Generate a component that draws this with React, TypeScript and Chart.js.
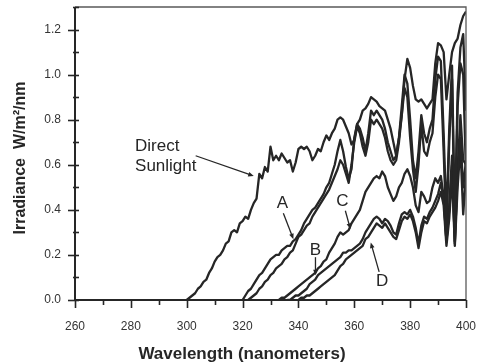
import { useEffect, useRef } from 'react';
import { Chart, registerables } from 'chart.js';

Chart.register(...registerables);

// Axes
const X_MIN = 260;
const X_MAX = 400;
const X_TICKS = [260, 270, 280, 290, 300, 310, 320, 330, 340, 350, 360, 370, 380, 390, 400];
const X_TICK_LABELS = [260, 280, 300, 320, 340, 360, 380, 400];
const Y_MIN = 0;
const Y_MAX = 1.3;
const Y_TICKS = [0, 0.1, 0.2, 0.3, 0.4, 0.5, 0.6, 0.7, 0.8, 0.9, 1.0, 1.1, 1.2, 1.3];
const Y_TICK_LABELS = [0, 0.2, 0.4, 0.6, 0.8, 1.0, 1.2];

// Spectral irradiance (W/m²/nm), sampled every 1 nm from each start wavelength
const directStart = 300;
const directSunlight = [
  0.00, 0.01, 0.02, 0.03, 0.05, 0.06, 0.08, 0.09, 0.12, 0.14,
  0.17, 0.19, 0.20, 0.22, 0.25, 0.26, 0.30, 0.31, 0.30, 0.34,
  0.35, 0.37, 0.36, 0.40, 0.43, 0.45, 0.56, 0.54, 0.59, 0.57,
  0.68, 0.62, 0.64, 0.62, 0.65, 0.63, 0.61, 0.62, 0.57, 0.61,
  0.67, 0.68, 0.67, 0.68, 0.66, 0.62, 0.64, 0.67, 0.66, 0.70,
  0.73, 0.71, 0.74, 0.76, 0.80, 0.81, 0.80, 0.77, 0.74, 0.69,
  0.71, 0.78, 0.80, 0.84, 0.85, 0.87, 0.90, 0.89, 0.88, 0.86,
  0.85, 0.84, 0.80, 0.76, 0.70, 0.64, 0.72, 0.82, 0.98, 1.07,
  1.03, 0.95, 0.89, 0.88, 0.89, 0.87, 0.85, 0.87, 0.89, 1.05,
  1.14, 1.13, 1.10, 0.89, 1.00, 1.10, 1.14, 1.16, 1.22, 1.26,
  1.28,
];

const filterAStart = 320;
const filterA = [
  0.00, 0.02, 0.04, 0.05, 0.07, 0.09, 0.11, 0.12, 0.14, 0.16,
  0.18, 0.19, 0.20, 0.20, 0.22, 0.23, 0.24, 0.24, 0.26, 0.27,
  0.29, 0.31, 0.34, 0.36, 0.38, 0.40, 0.41, 0.43, 0.45, 0.47,
  0.50, 0.52, 0.56, 0.60, 0.66, 0.71, 0.66, 0.59, 0.54, 0.58,
  0.72, 0.78, 0.76, 0.72, 0.66, 0.74, 0.84, 0.82, 0.84, 0.82,
  0.80, 0.76, 0.70, 0.66, 0.62, 0.64, 0.72, 0.86, 1.00, 0.96,
  0.80, 0.62, 0.54, 0.66, 0.82, 0.74, 0.70, 0.76, 0.80, 0.98,
  1.08, 1.06, 0.74, 0.36, 0.76, 1.04, 0.34, 0.92, 1.12, 1.18,
  0.84,
];

// unlabelled companion of A
const filterA2Start = 322;
const filterA2 = [
  0.00, 0.01, 0.02, 0.03, 0.05, 0.06, 0.08, 0.09, 0.11, 0.12,
  0.14, 0.15, 0.16, 0.18, 0.19, 0.21, 0.22, 0.25, 0.28, 0.29,
  0.31, 0.33, 0.34, 0.37, 0.39, 0.41, 0.43, 0.45, 0.47, 0.49,
  0.52, 0.55, 0.58, 0.62, 0.60, 0.56, 0.52, 0.60, 0.70, 0.77,
  0.74, 0.68, 0.64, 0.70, 0.80, 0.78, 0.80, 0.78, 0.76, 0.72,
  0.66, 0.62, 0.60, 0.62, 0.70, 0.82, 0.94, 0.90, 0.72, 0.58,
  0.48, 0.60, 0.78, 0.66, 0.64, 0.70, 0.74, 0.90, 1.00, 0.98,
  0.66, 0.30, 0.70, 0.98, 0.30, 0.86, 1.05, 1.00, 0.56,
];

const filterBStart = 336;
const filterB = [
  0.00, 0.00, 0.01, 0.02, 0.02, 0.03, 0.04, 0.05, 0.07, 0.08,
  0.09, 0.11, 0.12, 0.13, 0.14, 0.15, 0.16, 0.17, 0.18, 0.19,
  0.21, 0.21, 0.22, 0.22, 0.23, 0.24, 0.25, 0.27, 0.30, 0.32,
  0.34, 0.36, 0.37, 0.36, 0.34, 0.36, 0.35, 0.33, 0.30, 0.29,
  0.34, 0.38, 0.39, 0.38, 0.40, 0.37, 0.32, 0.25, 0.33, 0.37,
  0.36, 0.39, 0.41, 0.44, 0.47, 0.52, 0.45, 0.26, 0.40, 0.60,
  0.26, 0.56, 0.72, 0.50, 0.62,
];

const filterCStart = 333;
const filterC = [
  0.00, 0.01, 0.01, 0.02, 0.03, 0.04, 0.05, 0.06, 0.07, 0.08,
  0.09, 0.10, 0.11, 0.12, 0.14, 0.15, 0.17, 0.18, 0.21, 0.23,
  0.25, 0.28, 0.30, 0.29, 0.30, 0.31, 0.34, 0.36, 0.38, 0.40,
  0.44, 0.48, 0.50, 0.52, 0.54, 0.55, 0.54, 0.57, 0.55, 0.50,
  0.47, 0.44, 0.46, 0.50, 0.52, 0.56, 0.58, 0.55, 0.50, 0.42,
  0.39, 0.48, 0.46, 0.43, 0.44, 0.50, 0.54, 0.52, 0.55, 0.46,
  0.26, 0.42, 0.64, 0.25, 0.58, 0.82, 0.62, 0.60,
];

const filterDStart = 340;
const filterD = [
  0.00, 0.01, 0.01, 0.02, 0.02, 0.03, 0.04, 0.05, 0.06, 0.07,
  0.08, 0.09, 0.10, 0.11, 0.13, 0.15, 0.16, 0.18, 0.19, 0.20,
  0.21, 0.22, 0.23, 0.24, 0.27, 0.28, 0.30, 0.32, 0.34, 0.33,
  0.32, 0.34, 0.32, 0.30, 0.28, 0.27, 0.31, 0.35, 0.37, 0.36,
  0.38, 0.35, 0.30, 0.23, 0.30, 0.35, 0.34, 0.37, 0.39, 0.41,
  0.44, 0.48, 0.42, 0.24, 0.36, 0.55, 0.24, 0.50, 0.68, 0.38,
  0.56,
];

const SERIES = [
  { name: 'Direct Sunlight', start: directStart, values: directSunlight },
  { name: 'A', start: filterAStart, values: filterA },
  { name: 'A2', start: filterA2Start, values: filterA2 },
  { name: 'B', start: filterBStart, values: filterB },
  { name: 'C', start: filterCStart, values: filterC },
  { name: 'D', start: filterDStart, values: filterD },
];

// Callout labels with arrows, in data units (nm, W/m²/nm)
const CALLOUTS = [
  { lines: ['Direct', 'Sunlight'], at: [281.5, 0.68], align: 'left', from: [303.2, 0.64], to: [324.0, 0.55] },
  { lines: ['A'], at: [334.3, 0.43], align: 'center', from: [334.6, 0.385], to: [338.2, 0.27] },
  { lines: ['B'], at: [346.1, 0.222], align: 'center', from: [346.1, 0.19], to: [346.1, 0.11] },
  { lines: ['C'], at: [355.7, 0.436], align: 'center', from: [356.8, 0.396], to: [358.6, 0.315] },
  { lines: ['D'], at: [370.0, 0.084], align: 'center', from: [368.9, 0.125], to: [365.9, 0.255] },
];

const INK = '#262626';
const SANS = '"Liberation Sans", Arial, sans-serif';

// keep the plot box where the layout padding puts it
const noLabelPadding = (s: any) => {
  s.paddingLeft = 0;
  s.paddingRight = 0;
  s.paddingTop = 0;
  s.paddingBottom = 0;
};

const frame = {
  id: 'frame',
  afterDraw(chart: any) {
    const { ctx, chartArea } = chart;
    const { left, right, top, bottom } = chartArea;
    const xs = chart.scales.x;
    const ys = chart.scales.y;
    ctx.save();

    // plot box
    ctx.strokeStyle = '#5a5a5a';
    ctx.lineWidth = 1.3;
    ctx.beginPath();
    ctx.moveTo(left, top);
    ctx.lineTo(right, top);
    ctx.lineTo(right, bottom);
    ctx.stroke();
    ctx.strokeStyle = INK;
    ctx.lineWidth = 2;
    ctx.beginPath();
    ctx.moveTo(left, top);
    ctx.lineTo(left, bottom);
    ctx.lineTo(right, bottom);
    ctx.stroke();

    // tick marks
    ctx.lineWidth = 1.6;
    X_TICKS.forEach((v) => {
      const px = Math.round(xs.getPixelForValue(v)) + 0.5;
      const major = X_TICK_LABELS.includes(v);
      ctx.beginPath();
      ctx.moveTo(px, bottom);
      ctx.lineTo(px, bottom + (major ? 8 : 5));
      ctx.stroke();
    });
    Y_TICKS.forEach((v) => {
      const py = Math.round(ys.getPixelForValue(v)) + 0.5;
      const major = Y_TICK_LABELS.some((t) => Math.abs(t - v) < 1e-6);
      ctx.beginPath();
      ctx.moveTo(left - (major ? 7 : 2), py);
      ctx.lineTo(left + 4, py);
      ctx.stroke();
    });

    // callouts
    ctx.fillStyle = INK;
    ctx.strokeStyle = INK;
    ctx.font = `17px ${SANS}`;
    ctx.textBaseline = 'middle';
    CALLOUTS.forEach((c) => {
      const tx = xs.getPixelForValue(c.at[0]);
      const ty = ys.getPixelForValue(c.at[1]);
      ctx.textAlign = c.align as CanvasTextAlign;
      c.lines.forEach((line, i) => ctx.fillText(line, tx, ty + i * 20));
      const x1 = xs.getPixelForValue(c.from[0]);
      const y1 = ys.getPixelForValue(c.from[1]);
      const x2 = xs.getPixelForValue(c.to[0]);
      const y2 = ys.getPixelForValue(c.to[1]);
      const ang = Math.atan2(y2 - y1, x2 - x1);
      const head = 6;
      ctx.lineWidth = 1.3;
      ctx.beginPath();
      ctx.moveTo(x1, y1);
      ctx.lineTo(x2 - Math.cos(ang) * head * 0.8, y2 - Math.sin(ang) * head * 0.8);
      ctx.stroke();
      ctx.beginPath();
      ctx.moveTo(x2, y2);
      ctx.lineTo(x2 - head * Math.cos(ang - 0.4), y2 - head * Math.sin(ang - 0.4));
      ctx.lineTo(x2 - head * Math.cos(ang + 0.4), y2 - head * Math.sin(ang + 0.4));
      ctx.closePath();
      ctx.fill();
    });

    // axis titles
    ctx.font = `bold 17px ${SANS}`;
    ctx.textAlign = 'center';
    ctx.fillText('Wavelength (nanometers)', 242, 354);
    ctx.font = `bold 16px ${SANS}`;
    ctx.translate(21, 158);
    ctx.rotate(-Math.PI / 2);
    ctx.fillText('Irradiance  W/m²/nm', 0, 0);
    ctx.restore();
  },
};

export default function App() {
  const canvasRef = useRef<HTMLCanvasElement | null>(null);

  useEffect(() => {
    const canvas = canvasRef.current;
    if (!canvas) return;
    const chart = new Chart(canvas, {
      type: 'line',
      data: {
        datasets: SERIES.map((s) => ({
          label: s.name,
          data: s.values.map((y, i) => ({ x: s.start + i, y })),
          borderColor: INK,
          borderWidth: 2.3,
          pointRadius: 0,
          fill: false,
          tension: 0,
          borderJoinStyle: 'round' as const,
        })),
      },
      options: {
        responsive: false,
        animation: false,
        layout: { padding: { top: 7, right: 12, left: 0, bottom: 0 } },
        plugins: { legend: { display: false }, tooltip: { enabled: false } },
        scales: {
          x: {
            type: 'linear',
            min: X_MIN,
            max: X_MAX,
            afterFit: (s: any) => { s.height = 62; noLabelPadding(s); },
            afterBuildTicks: (s: any) => { s.ticks = X_TICKS.map((value) => ({ value })); },
            grid: { display: false, drawTicks: false },
            border: { display: false },
            ticks: {
              autoSkip: false,
              maxRotation: 0,
              padding: 19,
              color: '#333',
              font: { family: SANS, size: 12 },
              callback: (v: any) => (X_TICK_LABELS.includes(Number(v)) ? String(v) : ''),
            },
          },
          y: {
            type: 'linear',
            min: Y_MIN,
            max: Y_MAX,
            afterFit: (s: any) => { s.width = 75; noLabelPadding(s); },
            afterBuildTicks: (s: any) => { s.ticks = Y_TICKS.map((value) => ({ value })); },
            grid: { display: false, drawTicks: false },
            border: { display: false },
            ticks: {
              autoSkip: false,
              padding: 14,
              color: '#333',
              font: { family: SANS, size: 12 },
              callback: (v: any) =>
                Y_TICK_LABELS.some((t) => Math.abs(t - Number(v)) < 1e-6) ? Number(v).toFixed(1) : '',
            },
          },
        },
      },
      plugins: [frame],
    });
    return () => chart.destroy();
  }, []);

  return (
    <div style={{ position: 'fixed', left: 0, top: 0, width: 478, height: 362, background: '#fff' }}>
      <canvas ref={canvasRef} width={478} height={362} style={{ display: 'block' }} />
    </div>
  );
}
